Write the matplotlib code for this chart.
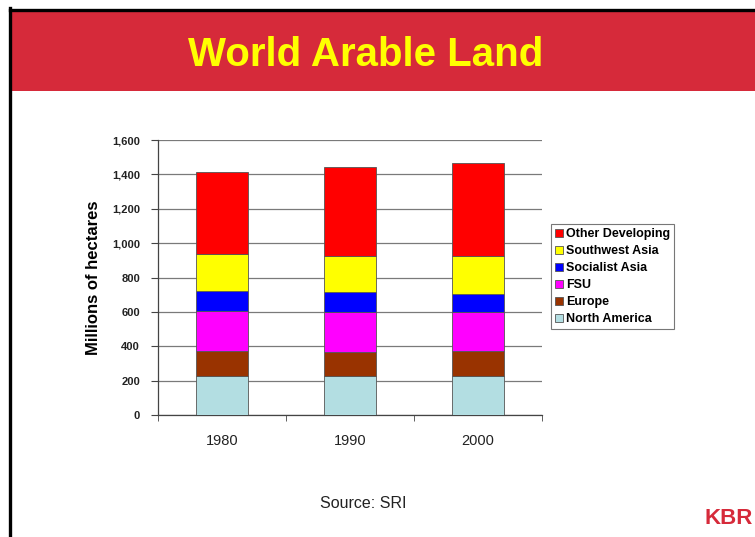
import matplotlib
matplotlib.use("Agg")
import matplotlib.pyplot as plt
from matplotlib.patches import Rectangle
from matplotlib.lines import Line2D
import numpy as np

plt.rcParams['font.family'] = ['Liberation Sans', 'DejaVu Sans']

years = ["1980", "1990", "2000"]
series_names = ["North America", "Europe", "FSU", "Socialist Asia", "Southwest Asia", "Other Developing"]
north_america = [229, 229, 229]
europe = [145, 139, 143]
fsu = [231, 233, 225]
socialist_asia = [116, 113, 109]
southwest_asia = [214, 211, 219]
other_developing = [481, 520, 539]
colors = ["#B3DEE2", "#993300", "#FF00FF", "#0000FF", "#FFFF00", "#FF0000"]
y_ticks = [0, 200, 400, 600, 800, 1000, 1200, 1400, 1600]
y_tick_labels = ["0", "200", "400", "600", "800", "1,000", "1,200", "1,400", "1,600"]

W, H = 755, 537
fig = plt.figure(figsize=(W / 100, H / 100), dpi=100)
fig.patch.set_facecolor("white")

def fx(px):
    return px / W

def fy(py):
    return 1 - py / H

# red title band
fig.add_artist(Rectangle((fx(11), fy(91)), fx(W) - fx(11), fy(11) - fy(91),
                         transform=fig.transFigure, facecolor="#D62A3A", edgecolor="none", zorder=0))
# black frame (top and left)
fig.add_artist(Line2D([fx(9.5), fx(W)], [fy(9.5), fy(9.5)], transform=fig.transFigure, color="black", lw=2.4))
fig.add_artist(Line2D([fx(9.5), fx(9.5)], [fy(8.3), fy(H)], transform=fig.transFigure, color="black", lw=2.4))

fig.text(fx(366), fy(55), "World Arable Land", color="#FFFF00", fontsize=29, fontweight="bold",
         ha="center", va="center")

ax = fig.add_axes([fx(158), fy(415), fx(542) - fx(158), fy(140) - fy(415)])
series = [north_america, europe, fsu, socialist_asia, southwest_asia, other_developing]
x = np.arange(len(years))
bottom = np.zeros(len(years))
handles = []
for name, vals, c in zip(series_names, series, colors):
    b = ax.bar(x, vals, width=0.4, bottom=bottom, color=c, edgecolor="#555555", linewidth=0.6,
               label=name, zorder=3)
    handles.append(b)
    bottom += np.array(vals)

ax.set_xlim(-0.5, len(years) - 0.5)
ax.set_ylim(0, 1600)
ax.set_yticks(y_ticks)
ax.set_yticklabels(y_tick_labels, fontsize=8, fontweight="bold", color="#222222")
ax.set_xticks(x)
ax.set_xticklabels(years, fontsize=10.5, color="#222222")
ax.tick_params(axis="x", length=0, pad=14)
ax.set_xticks(np.arange(-0.5, len(years)), minor=True)
ax.tick_params(axis="x", which="minor", length=4, direction="out", color="#444444")
ax.tick_params(axis="y", length=5, direction="out", color="#444444", pad=8)
ax.yaxis.grid(True, color="#7A7A7A", linewidth=0.9, zorder=0)
ax.set_axisbelow(True)
for s in ["top", "right"]:
    ax.spines[s].set_visible(False)
for s in ["left", "bottom"]:
    ax.spines[s].set_color("#444444")
    ax.spines[s].set_linewidth(0.9)
ax.set_ylabel("Millions of hectares", fontsize=12, fontweight="bold", labelpad=8)

leg = ax.legend(handles[::-1], series_names[::-1], loc="upper left",
                bbox_to_anchor=(fx(551), fy(224)), bbox_transform=fig.transFigure,
                prop={"size": 9, "weight": "bold"}, frameon=True, fancybox=False,
                edgecolor="#777777", framealpha=1, handlelength=0.6, handleheight=0.6,
                handletextpad=0.3, labelspacing=0.4, borderpad=0.32, borderaxespad=0)
leg.get_frame().set_linewidth(0.8)

fig.text(fx(363), fy(503), "Source: SRI", fontsize=11.5, ha="center", va="center", color="#222222")
fig.text(fx(753), fy(519), "KBR", fontsize=16, fontweight="bold", ha="right", va="center", color="#D62A3A")

fig.savefig("out.png", dpi=100)
